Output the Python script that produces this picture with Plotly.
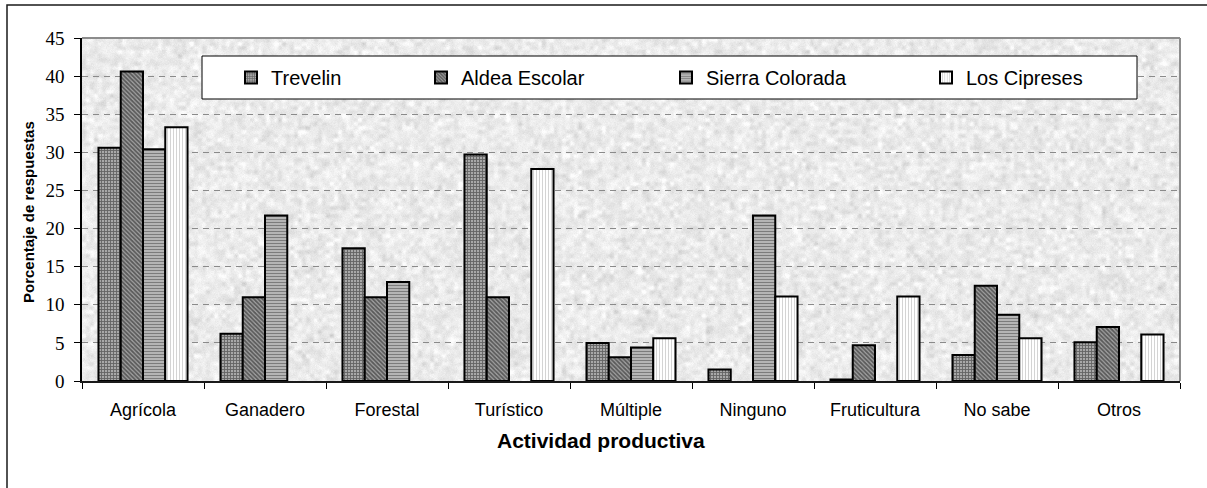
import base64
import struct
import zlib

import numpy as np
import plotly.graph_objects as go

# ---- data -------------------------------------------------------------
categories = ["Agrícola", "Ganadero", "Forestal", "Turístico", "Múltiple",
              "Ninguno", "Fruticultura", "No sabe", "Otros"]
trevelin = [30.6, 6.2, 17.4, 29.7, 5.0, 1.5, 0.2, 3.4, 5.1]
aldea_escolar = [40.6, 11.0, 11.0, 11.0, 3.1, None, 4.7, 12.5, 7.1]
sierra_colorada = [30.4, 21.7, 13.0, None, 4.4, 21.7, None, 8.7, None]
los_cipreses = [33.3, None, None, 27.8, 5.6, 11.1, 11.1, 5.6, 6.1]
y_ticks = [0, 5, 10, 15, 20, 25, 30, 35, 40, 45]

# ---- geometry ---------------------------------------------------------
W, H = 1207, 488
ML, MR, MT, MB = 82, 27, 38, 107
PW, PH = W - ML - MR, H - MT - MB


def px_x(px):
    return (px - ML) / PW


def px_y(py):
    return (H - MB - py) / PH


# ---- granite-style background fill ------------------------------------
def granite(w, h, seed=11):
    rng = np.random.default_rng(seed)
    coarse = rng.normal(0, 1, (h // 4 + 2, w // 4 + 2))
    coarse = np.kron(coarse, np.ones((4, 4)))[:h, :w]
    for _ in range(3):
        coarse = (coarse + np.roll(coarse, 1, 0) + np.roll(coarse, -1, 0)
                  + np.roll(coarse, 1, 1) + np.roll(coarse, -1, 1)) / 5
    fine = rng.normal(0, 1, (h, w))
    tex = 0.8 * coarse / coarse.std() + 0.35 * fine
    img = np.clip(235 + 8 * tex, 200, 253).astype(np.uint8)
    raw = b"".join(b"\x00" + img[r].tobytes() for r in range(h))

    def chunk(tag, data):
        return (struct.pack(">I", len(data)) + tag + data
                + struct.pack(">I", zlib.crc32(tag + data) & 0xFFFFFFFF))

    png = (b"\x89PNG\r\n\x1a\n"
           + chunk(b"IHDR", struct.pack(">IIBBBBB", w, h, 8, 0, 0, 0, 0))
           + chunk(b"IDAT", zlib.compress(raw, 9))
           + chunk(b"IEND", b""))
    return "data:image/png;base64," + base64.b64encode(png).decode()


# ---- series styling ---------------------------------------------------
series = [
    ("Trevelin", trevelin, dict(shape="+", fgcolor="#1e1e1e", bgcolor="#a8a8a8", size=3, solidity=0.5)),
    ("Aldea Escolar", aldea_escolar, dict(shape="\\", fgcolor="#101010", bgcolor="#a4a4a4", size=3, solidity=0.6)),
    ("Sierra Colorada", sierra_colorada, dict(shape="-", fgcolor="#2a2a2a", bgcolor="#cfcfcf", size=3, solidity=0.55)),
    ("Los Cipreses", los_cipreses, dict(shape="|", fgcolor="#a0a0a0", bgcolor="#ffffff", size=3, solidity=0.3)),
]
legend_text_x = [272, 462, 707, 967]
LEGEND_TEXT_OFFSET = 41

fig = go.Figure()
legend_layouts = {}
for i, (name, vals, pattern) in enumerate(series):
    key = "legend" if i == 0 else f"legend{i + 1}"
    fig.add_trace(go.Bar(
        name=name, x=categories, y=vals,
        marker=dict(pattern=pattern, color=pattern["bgcolor"],
                    line=dict(color="#000000", width=2)),
        legend=key,
    ))
    legend_layouts[key] = dict(
        x=px_x(legend_text_x[i] - LEGEND_TEXT_OFFSET), y=px_y(77.5),
        xanchor="left", yanchor="middle",
        bgcolor="rgba(0,0,0,0)", borderwidth=0,
        font=dict(family="Liberation Sans, Arial", size=20, color="#000000"),
    )

shapes = [
    # legend box
    dict(type="rect", xref="paper", yref="paper",
         x0=px_x(202), x1=px_x(1137), y0=px_y(99), y1=px_y(56),
         fillcolor="#ffffff", line=dict(color="#000000", width=1), layer="above"),
    # plot-area border (top and right)
    dict(type="line", xref="paper", yref="paper", x0=0, x1=1, y0=1, y1=1,
         line=dict(color="#8c8c8c", width=2)),
    dict(type="line", xref="paper", yref="paper", x0=1, x1=1, y0=0, y1=1,
         line=dict(color="#8c8c8c", width=2)),
    # outer chart frame; its right and bottom edges fall outside the page
    dict(type="rect", xref="paper", yref="paper",
         x0=px_x(7), x1=px_x(W + 60), y0=px_y(H + 60), y1=px_y(5),
         fillcolor="rgba(0,0,0,0)", line=dict(color="#1a1a1a", width=1.5),
         layer="below"),
]

fig.update_layout(
    width=W, height=H,
    margin=dict(l=ML, r=MR, t=MT, b=MB, pad=0),
    paper_bgcolor="#ffffff", plot_bgcolor="#ebebeb",
    barmode="group", bargap=0.27, bargroupgap=0,
    showlegend=True,
    shapes=shapes,
    images=[dict(source=granite(PW, PH), xref="paper", yref="paper",
                 x=0, y=1, sizex=1, sizey=1, sizing="stretch",
                 xanchor="left", yanchor="top", layer="below")],
    annotations=[
        dict(text="<b>Actividad productiva</b>", xref="paper", yref="paper",
             x=px_x(601), y=px_y(441), showarrow=False,
             xanchor="center", yanchor="middle",
             font=dict(family="Liberation Sans, Arial", size=21, color="#000000")),
        dict(text="<b>Porcentaje de respuestas</b>", xref="paper", yref="paper",
             x=px_x(28), y=px_y(212), showarrow=False, textangle=-90,
             xanchor="center", yanchor="middle",
             font=dict(family="Liberation Sans, Arial", size=15, color="#000000")),
    ],
    xaxis=dict(
        type="category", showgrid=False, showline=True,
        linecolor="#1a1a1a", linewidth=2,
        ticks="outside", ticklen=6, tickcolor="#000000", tickwidth=1,
        tickson="boundaries", ticklabelstandoff=11,
        tickfont=dict(family="Liberation Sans, Arial", size=18, color="#000000"),
    ),
    yaxis=dict(
        range=[0, 45], tickvals=y_ticks, showline=True,
        linecolor="#000000", linewidth=1.5,
        ticks="outside", ticklen=6, tickcolor="#000000", tickwidth=1,
        showgrid=True, gridcolor="#8a8a8a", gridwidth=1, griddash="6px,5px",
        zeroline=False, ticklabelstandoff=6,
        tickfont=dict(family="Liberation Serif, Times New Roman", size=19, color="#000000"),
    ),
    **legend_layouts,
)

# keep the page itself from scrolling so only the chart is shown
fig.write_html(
    "out.html",
    config={"displayModeBar": False},
    post_script="document.documentElement.style.overflow='hidden';"
                "document.body.style.margin='0';document.body.style.overflow='hidden';",
)
